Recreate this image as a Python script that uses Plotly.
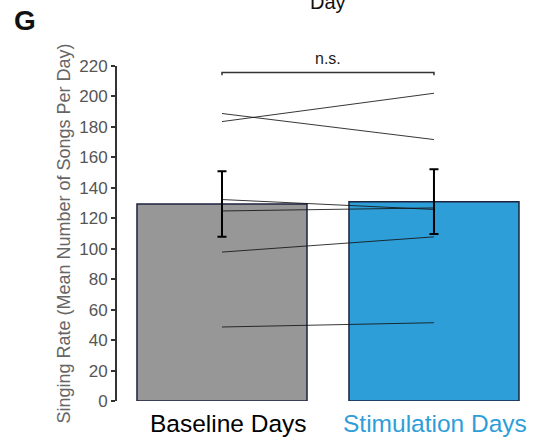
import plotly.graph_objects as go

# Group summary (mean songs per day, SEM)
groups = ["Baseline Days", "Stimulation Days"]
group_means = [129.3, 130.8]
group_sem_up = [21.6, 21.4]
group_sem_down = [21.5, 21.2]
bar_colors = ["#979797", "#2e9ed9"]
label_colors = ["#000000", "#2e9ed9"]
label_shift = [7, 1]

# Per-bird singing rate: baseline vs. stimulation
bird_baseline = [188.8, 183.5, 132.3, 124.8, 97.8, 48.6]
bird_stim = [171.7, 202.1, 125.8, 126.8, 107.8, 51.4]

y_ticks = [0, 20, 40, 60, 80, 100, 120, 140, 160, 180, 200, 220]

xpos = [1, 2]
font = "Arial, Liberation Sans, sans-serif"

fig = go.Figure()

fig.add_trace(go.Bar(
    x=xpos, y=group_means, width=0.802,
    marker=dict(color=bar_colors, line=dict(color="#1c2340", width=1.5)),
    showlegend=False, hoverinfo="skip",
))

for b, s in zip(bird_baseline, bird_stim):
    fig.add_trace(go.Scatter(
        x=xpos, y=[b, s], mode="lines",
        line=dict(color="rgba(20,20,20,0.85)", width=1),
        showlegend=False, hoverinfo="skip",
    ))

fig.add_trace(go.Scatter(
    x=xpos, y=group_means, mode="markers",
    marker=dict(size=1, color="rgba(0,0,0,0)"),
    error_y=dict(type="data", symmetric=False, array=group_sem_up,
                 arrayminus=group_sem_down, color="#000000",
                 thickness=2, width=4.5),
    showlegend=False, hoverinfo="skip",
))

# significance bracket
fig.add_trace(go.Scatter(
    x=[1, 1, 2, 2], y=[214, 215.8, 215.8, 214], mode="lines",
    line=dict(color="#333333", width=1.5),
    showlegend=False, hoverinfo="skip", cliponaxis=False,
))

annotations = [
    dict(x=1.5, xref="x", y=215.8, yref="y", text="n.s.", showarrow=False,
         yanchor="bottom", yshift=3, font=dict(family=font, size=16, color="#222")),
    dict(x=-0.255, xref="paper", xanchor="left", y=1, yref="paper", yanchor="bottom",
         yshift=28, text="<b>G</b>", showarrow=False,
         font=dict(family=font, size=28, color="#111")),
    dict(x=1.5, xref="x", y=1, yref="paper", text="Day", showarrow=False,
         yanchor="bottom", yshift=51, font=dict(family=font, size=20, color="#111")),
]
for xp, g, c, sh in zip(xpos, groups, label_colors, label_shift):
    annotations.append(dict(
        x=xp, xref="x", y=0, yref="paper", text=g, showarrow=False,
        yanchor="top", yshift=-7, xshift=sh,
        font=dict(family=font, size=24.5, color=c)))

fig.update_layout(
    width=534, height=442,
    margin=dict(l=117, r=4, t=66, b=41),
    paper_bgcolor="white", plot_bgcolor="white",
    annotations=annotations,
    xaxis=dict(range=[0.5047, 2.453], showticklabels=False, showgrid=False,
               zeroline=False, showline=False, ticks=""),
    yaxis=dict(range=[0, 220], tickvals=y_ticks, showgrid=False, zeroline=False,
               showline=True, linecolor="#333333", linewidth=2,
               ticks="outside", ticklen=4, tickwidth=1.5, tickcolor="#333333",
               tickfont=dict(family=font, size=17, color="#555555"),
               title=dict(text="Singing Rate (Mean Number of Songs Per Day)",
                          font=dict(family=font, size=18, color="#666666"),
                          standoff=4)),
)

fig.write_html("out.html")
